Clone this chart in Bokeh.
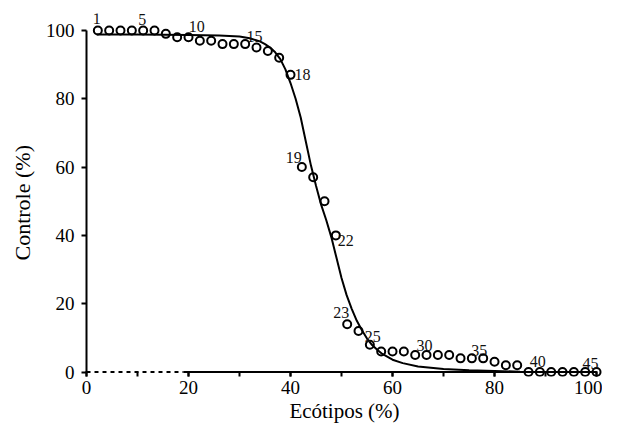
from bokeh.plotting import figure
from bokeh.models import Range1d, SingleIntervalTicker, ColumnDataSource, Title
from bokeh.core.properties import value
from bokeh.embed import file_html
from bokeh.resources import INLINE

# ---- data ----
point_index = list(range(1, 46))
ecotipos = [i * 100.0 / 45.0 for i in point_index]
controle = [100, 100, 100, 100, 100, 100, 99, 98, 98, 97, 97, 96, 96, 96, 95,
            94, 92, 87, 60, 57, 50, 40, 14, 12, 8, 6, 6, 6, 5, 5,
            5, 5, 4, 4, 4, 3, 2, 2, 0, 0, 0, 0, 0, 0, 0]

curve_x = [2, 10, 20, 26, 30, 32, 34, 35, 36, 37, 38, 39, 40, 41, 42, 43, 44,
           45, 46, 47, 48, 49, 50, 51, 52, 53, 54, 55, 56, 57, 58, 60, 62, 65,
           70, 75, 80, 85, 90, 100]
curve_y = [98.8, 98.8, 98.7, 98.5, 98.2, 97.7, 96.8, 96.0, 95.0, 93.6, 91.6,
           88.6, 84.6, 80.0, 74.5, 67.5, 60.5, 54.5, 49.0, 44.5, 39.5, 33.5,
           27.5, 22.5, 18.5, 15.0, 12.2, 9.8, 7.9, 6.5, 5.3, 3.6, 2.6, 1.6,
           0.9, 0.5, 0.3, 0.1, 0.0, 0.0]

labelled_points = [1, 5, 10, 15, 18, 19, 22, 23, 25, 30, 35, 40, 45]

x_ticks_interval = 20
y_ticks_interval = 20
dashed_axis_end = 19

x_title = "Ecótipos (%)"
y_title = "Controle (%)"

# label offsets (screen px) - styling
label_dx = {1: -1, 5: -1, 10: -3, 15: -2, 18: 12, 19: -8, 22: 10, 23: -6,
            25: 3, 30: -2, 35: -4, 40: -2, 45: -6}
label_dy = {1: -12, 5: -11, 10: -14, 15: -11, 18: 0, 19: -10, 22: 5, 23: -12,
            25: -8, 30: -9, 35: -8, 40: -11, 45: -9}

FONT = "Liberation Serif"

p = figure(width=602, height=425, output_backend="svg", toolbar_location=None,
           x_range=Range1d(0, 101.17), y_range=Range1d(-1.314, 104.96),
           min_border_left=82, min_border_right=0, min_border_top=13,
           min_border_bottom=48)
p.outline_line_color = None
p.xgrid.visible = False
p.ygrid.visible = False
p.background_fill_color = "white"

# x axis
xa = p.xaxis[0]
xa.ticker = SingleIntervalTicker(interval=x_ticks_interval, num_minor_ticks=2)
xa.bounds = (0, 100)
xa.axis_line_color = None
xa.major_tick_in = 5
xa.major_tick_out = 0
xa.minor_tick_in = 5
xa.minor_tick_out = 0
xa.major_tick_line_width = 2
xa.minor_tick_line_width = 2
xa.major_tick_line_color = "black"
xa.minor_tick_line_color = "black"
xa.major_label_standoff = 4
xa.major_label_text_font = FONT
xa.major_label_text_font_size = "19px"
xa.major_label_text_color = "black"
xa.axis_label = x_title
xa.axis_label_text_font = FONT
xa.axis_label_text_font_size = "21px"
xa.axis_label_text_font_style = "normal"
xa.axis_label_text_color = "black"
xa.axis_label_standoff = 2

# y axis
ya = p.yaxis[0]
ya.ticker = SingleIntervalTicker(interval=y_ticks_interval, num_minor_ticks=0)
ya.bounds = (0, 100)
ya.axis_line_width = 2
ya.axis_line_color = "black"
ya.major_tick_in = 0
ya.major_tick_out = 5
ya.minor_tick_in = 0
ya.minor_tick_out = 0
ya.major_tick_line_width = 2
ya.major_tick_line_color = "black"
ya.major_label_standoff = 7
ya.major_label_text_font = FONT
ya.major_label_text_font_size = "19px"
ya.major_label_text_color = "black"

# y axis title as a side title (starts a fixed distance above the frame bottom)
p.add_layout(Title(text=y_title, align="left", offset=116, standoff=15,
                   text_font=FONT, text_font_size="22px",
                   text_font_style="normal", text_color="black"), "left")

# x axis line at y = 0 (dashed part, then solid)
p.segment(x0=[0], y0=[0], x1=[dashed_axis_end], y1=[0], line_color="black",
          line_width=2, line_dash="4 4")
p.segment(x0=[dashed_axis_end], y0=[0], x1=[100], y1=[0], line_color="black",
          line_width=2)

# fitted curve
p.line(curve_x, curve_y, line_color="black", line_width=2)

# points
src = ColumnDataSource(dict(x=ecotipos, y=controle))
p.scatter("x", "y", source=src, marker="circle", size=8, line_color="black",
          line_width=2, fill_color=None)

# point labels
lab = ColumnDataSource(dict(
    x=[ecotipos[i - 1] for i in labelled_points],
    y=[controle[i - 1] for i in labelled_points],
    t=[str(i) for i in labelled_points],
    dx=[label_dx[i] for i in labelled_points],
    dy=[label_dy[i] for i in labelled_points],
))
p.text("x", "y", text="t", source=lab, x_offset="dx", y_offset="dy",
       text_align="center", text_baseline="middle",
       text_font=value(FONT), text_font_size="16px", text_color="#111111")

open("out.html", "w").write(file_html(p, INLINE))
